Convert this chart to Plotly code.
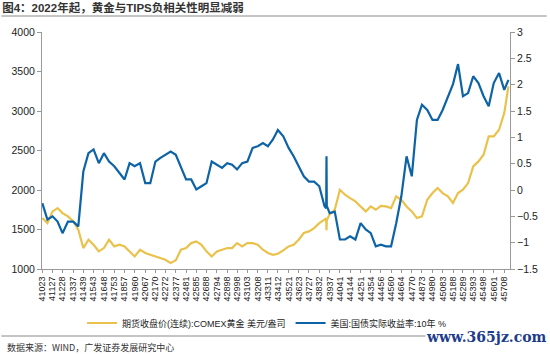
import plotly.graph_objects as go

# x tick labels (Excel serial dates as shown in the chart)
tick_serials = [41023, 41127, 41228, 41337, 41439, 41543, 41648, 41753, 41857, 41960,
                42067, 42170, 42272, 42377, 42481, 42585, 42688, 42794, 42898, 42998,
                43103, 43208, 43311, 43412, 43521, 43623, 43727, 43832, 43937, 44041,
                44144, 44251, 44354, 44456, 44560, 44664, 44770, 44873, 44980, 45083,
                45188, 45289, 45393, 45498, 45601, 45708]

dates = [41023, 41075, 41127, 41178, 41228, 41283, 41337, 41388, 41439, 41491,
         41543, 41596, 41648, 41700, 41753, 41805, 41857, 41908, 41960, 42014,
         42067, 42118, 42170, 42221, 42272, 42325, 42377, 42429, 42481, 42533,
         42585, 42637, 42688, 42741, 42794, 42846, 42898, 42948, 42998, 43050,
         43103, 43156, 43208, 43260, 43311, 43362, 43412, 43467, 43521, 43572,
         43623, 43675, 43727, 43780, 43832, 43885, 43902, 43905, 43908, 43937,
         43989, 44041, 44093, 44144, 44198, 44251, 44303, 44354, 44405, 44456,
         44508, 44560, 44612, 44664, 44717, 44770, 44822, 44873, 44927, 44980,
         45032, 45083, 45136, 45188, 45239, 45289, 45341, 45393, 45446, 45498,
         45550, 45601, 45655, 45708, 45750]

gold = [1645, 1581, 1729, 1771, 1708, 1666, 1603, 1497, 1265, 1370,
        1307, 1223, 1265, 1370, 1286, 1307, 1286, 1223, 1159, 1244,
        1202, 1180, 1160, 1138, 1117, 1075, 1110, 1244, 1265, 1328,
        1349, 1307, 1223, 1159, 1223, 1244, 1265, 1265, 1328, 1286,
        1328, 1328, 1307, 1244, 1202, 1180, 1193, 1235, 1286, 1307,
        1370, 1455, 1476, 1518, 1581, 1624, 1640, 1490, 1620, 1690,
        1750, 2003, 1940, 1898, 1856, 1792, 1729, 1792, 1750, 1800,
        1792, 1771, 1919, 1877, 1792, 1729, 1645, 1666, 1877, 1961,
        2025, 1961, 1919, 1835, 1961, 2003, 2088, 2299, 2362, 2447,
        2679, 2679, 2763, 2974, 3312]

tips = [-0.25, -0.56, -0.50, -0.60, -0.82, -0.60, -0.60, -0.69, 0.35, 0.70,
        0.77, 0.51, 0.70, 0.54, 0.45, 0.32, 0.20, 0.51, 0.45, 0.51,
        0.13, 0.13, 0.54, 0.61, 0.67, 0.73, 0.67, 0.45, 0.20, 0.20,
        0.01, 0.07, 0.13, 0.54, 0.48, 0.42, 0.51, 0.48, 0.39, 0.51,
        0.54, 0.80, 0.83, 0.89, 0.83, 0.96, 1.14, 1.02, 0.80, 0.64,
        0.45, 0.26, 0.16, 0.16, 0.07, -0.31, -0.35, 0.64, -0.30, -0.44,
        -0.41, -0.94, -0.94, -0.88, -0.94, -0.63, -0.75, -0.82, -1.07, -1.04,
        -1.07, -1.07, -0.63, -0.12, 0.64, 0.26, 1.33, 1.62, 1.52, 1.33,
        1.33, 1.52, 1.78, 2.01, 2.39, 1.78, 1.84, 2.16, 2.03, 1.78,
        1.59, 2.03, 2.22, 1.90, 2.09]

gold_name = "期货收盘价(连续):COMEX黄金 美元/盎司"
tips_name = "美国:国债实际收益率:10年 %"
title_text = "<b>图4：2022年起，黄金与TIPS负相关性明显减弱</b>"
source_text = "数据来源：WIND，广发证券发展研究中心"

FONT = "Liberation Sans, Arial, Noto Sans CJK SC, sans-serif"
GOLD_C = "#EAC24B"
BLUE_C = "#0C63A6"

fig = go.Figure()
fig.add_trace(go.Scatter(x=dates, y=gold, name=gold_name, mode="lines",
                         line=dict(color=GOLD_C, width=2.2), yaxis="y"))
fig.add_trace(go.Scatter(x=dates, y=tips, name=tips_name, mode="lines",
                         line=dict(color=BLUE_C, width=2.2), yaxis="y2"))

L, R, T, B = 41, 37, 32, 85
W, H = 550, 354
pw, ph = W - L - R, H - T - B

def px_x(x):
    return (x - L) / pw

def px_y(y):
    return (H - B - y) / ph

fig.update_layout(
    width=W, height=H,
    margin=dict(l=L, r=R, t=T, b=B),
    paper_bgcolor="white", plot_bgcolor="white",
    font=dict(family=FONT, size=10, color="#222"),
    showlegend=True,
    legend=dict(orientation="h", x=px_x(268), xanchor="center", y=px_y(323), yanchor="middle",
                font=dict(size=9, color="#222"), itemwidth=30, tracegroupgap=0,
                bgcolor="rgba(0,0,0,0)"),
    title=dict(text=title_text, x=0.004, xanchor="left", y=1 - 8 / H, yanchor="middle",
               font=dict(size=11.5, color="#333", family=FONT)),
    xaxis=dict(type="linear", range=[41020, 45766], tickmode="array",
               tickvals=tick_serials, ticktext=[str(v) for v in tick_serials],
               tickangle=-90, tickfont=dict(size=9, color="#222"),
               showline=True, linecolor="#999", linewidth=1, ticks="outside",
               ticklen=3, tickcolor="#999", showgrid=False, zeroline=False),
    yaxis=dict(range=[1000, 4000], dtick=500, showline=True, linecolor="#999",
               linewidth=1, ticks="outside", ticklen=4, tickcolor="#999",
               showgrid=False, zeroline=False, tickfont=dict(size=10.5, color="#222")),
    yaxis2=dict(range=[-1.5, 3], dtick=0.5, overlaying="y", side="right",
                showline=True, linecolor="#999", linewidth=1, ticks="outside",
                ticklen=4, tickcolor="#999", showgrid=False, zeroline=False,
                tickfont=dict(size=10.5, color="#222")),
    shapes=[
        dict(type="line", xref="paper", yref="paper", x0=px_x(0), x1=px_x(W),
             y0=px_y(16), y1=px_y(16), line=dict(color="#8a8a8a", width=1)),
        dict(type="line", xref="paper", yref="paper", x0=px_x(0), x1=px_x(W),
             y0=px_y(336), y1=px_y(336), line=dict(color="#8a8a8a", width=1)),
    ],
    annotations=[
        dict(text=source_text, xref="paper", yref="paper", x=px_x(4), y=px_y(347),
             xanchor="left", yanchor="middle", showarrow=False,
             font=dict(size=9, color="#333", family="Noto Sans CJK SC, sans-serif")),
        dict(text="<b>www.365jz.com</b>", xref="paper", yref="paper", x=px_x(489), y=px_y(337),
             xanchor="center", yanchor="middle", showarrow=False, bgcolor="white",
             borderpad=0,
             font=dict(size=14, color="#1E3C8C", family="DejaVu Serif, serif")),
    ],
)

fig.write_html("out.html")
